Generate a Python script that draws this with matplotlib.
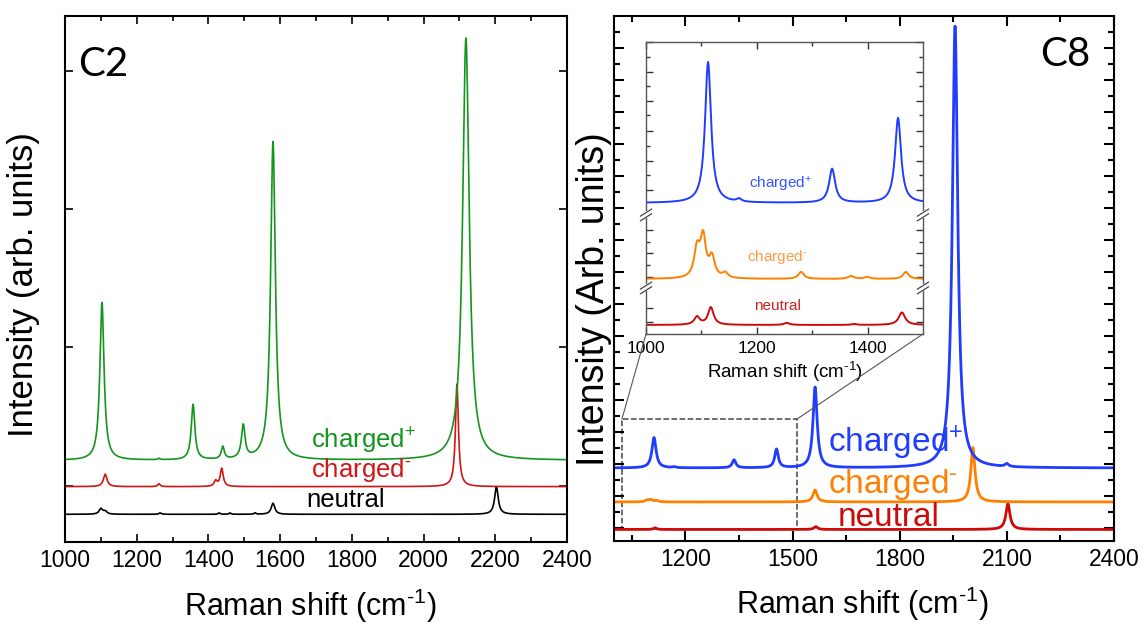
import numpy as np
import matplotlib
matplotlib.use('Agg')
import matplotlib.pyplot as plt
from matplotlib.patches import Rectangle, ConnectionPatch

plt.rcParams['font.family'] = ['Liberation Sans', 'DejaVu Sans']
plt.rcParams['mathtext.fontset'] = 'custom'
plt.rcParams['mathtext.rm'] = 'Liberation Sans'
plt.rcParams['mathtext.default'] = 'regular'

# ---- C2 panel: baseline, peak centres (cm-1), heights, half widths ----
c2_neu_base = 0.20
c2_neu_pos = [1100, 1112, 1265, 1430, 1460, 1530, 1580, 2203]
c2_neu_amp = [0.04, 0.02, 0.01, 0.01, 0.01, 0.01, 0.08, 0.20]
c2_neu_wid = [6, 6, 4, 3, 3, 3, 6, 6]

c2_neg_base = 0.40
c2_neg_pos = [1112, 1262, 1420, 1437, 2093]
c2_neg_amp = [0.09, 0.02, 0.04, 0.13, 0.74]
c2_neg_wid = [6, 4, 5, 5, 5]

c2_pos_base = 0.59
c2_pos_pos = [1103, 1262, 1357, 1440, 1497, 1580, 2118]
c2_pos_amp = [1.14, 0.01, 0.40, 0.09, 0.24, 2.30, 3.05]
c2_pos_wid = [7, 3, 6, 5, 6, 8, 11]

# ---- C8 panel ----
c8_neu_base = 0.36
c8_neu_pos = [1115, 1565, 2103]
c8_neu_amp = [0.05, 0.09, 0.80]
c8_neu_wid = [5, 6, 7]

c8_neg_base = 1.22
c8_neg_pos = [1092, 1103, 1119, 1563, 2005]
c8_neg_amp = [0.05, 0.07, 0.04, 0.37, 1.70]
c8_neg_wid = [6, 6, 6, 7, 7]

c8_pos_base = 2.28
c8_pos_pos = [1112, 1168, 1336, 1455, 1563, 1955, 2100]
c8_pos_amp = [0.95, 0.03, 0.25, 0.58, 2.52, 13.8, 0.09]
c8_pos_wid = [7, 5, 6, 6, 7, 9, 6]

# ---- C8 inset (1000-1500 cm-1), stacked with breaks ----
in_neu_base = 9
in_neu_pos = [1092, 1117, 1254, 1375, 1462]
in_neu_amp = [8, 17.5, 2, 1, 12.5]
in_neu_wid = [6, 6, 6, 5, 7]

in_neg_base = 55
in_neg_pos = [1092, 1103, 1119, 1143, 1280, 1370, 1399, 1469]
in_neg_amp = [28, 40, 20, 5, 7, 3, 2, 7]
in_neg_wid = [6, 6, 6, 6, 6, 6, 6, 6]

in_pos_base = 131
in_pos_pos = [1112, 1168, 1336, 1455]
in_pos_amp = [141, 3, 34, 85]
in_pos_wid = [6.5, 5, 6.5, 6.5]

PLUS = 'charged$^{\\text{+}}$'
MINUS = 'charged$^{\\text{-}}$'
XLAB = 'Raman shift (cm$^{\\text{-1}}$)'


def spectrum(x, base, pos, amp, wid):
    y = np.full_like(x, base, dtype=float)
    for p, a, w in zip(pos, amp, wid):
        y += a * w**2 / ((x - p)**2 + w**2)
    return y


x = np.arange(1000, 2401, 1.0)
xi = np.arange(1000, 1501, 1.0)

fig = plt.figure(figsize=(11.43, 6.26), dpi=100)
ax1 = fig.add_axes([0.0569, 0.1342, 0.4392, 0.8403])
ax2 = fig.add_axes([0.5372, 0.1358, 0.4374, 0.8387])

for sp in list(ax1.spines.values()) + list(ax2.spines.values()):
    sp.set_linewidth(1.5)

# left panel
ax1.plot(x, spectrum(x, c2_neu_base, c2_neu_pos, c2_neu_amp, c2_neu_wid), color='black', lw=1.2)
ax1.plot(x, spectrum(x, c2_neg_base, c2_neg_pos, c2_neg_amp, c2_neg_wid), color='#d01515', lw=1.2)
ax1.plot(x, spectrum(x, c2_pos_base, c2_pos_pos, c2_pos_amp, c2_pos_wid), color='#14961e', lw=1.2)
ax1.set_xlim(1000, 2400)
ax1.set_ylim(0, 3.80)
ax1.set_xticks(np.arange(1000, 2401, 200))
ax1.set_xticks(np.arange(1100, 2400, 200), minor=True)
ax1.set_yticks([0.405, 1.405, 2.405, 3.405])
ax1.set_yticklabels([])
ax1.tick_params(which='both', direction='in', top=True, right=True, labelsize=16.5, pad=5)
ax1.tick_params(which='major', length=6, width=1.2)
ax1.tick_params(which='minor', length=3.5, width=1.2)
ax1.set_xlabel(XLAB, fontsize=22)
ax1.xaxis.set_label_coords(0.488, -0.085)
ax1.set_ylabel('Intensity (arb. units)', fontsize=25)
ax1.yaxis.set_label_coords(-0.05, 0.489)
ax1.text(1106, 3.45, 'C2', fontsize=29, family=['Lato', 'DejaVu Sans'], ha='center', va='center')
ax1.text(1686, 0.73, PLUS, color='#14961e', fontsize=18.5, ha='left', va='center')
ax1.text(1686, 0.52, MINUS, color='#d01515', fontsize=18.5, ha='left', va='center')
ax1.text(1672, 0.30, 'neutral', color='black', fontsize=18.5, ha='left', va='center')

# right panel
ax2.plot(x, spectrum(x, c8_neu_base, c8_neu_pos, c8_neu_amp, c8_neu_wid), color='#cc0a0a', lw=2)
ax2.plot(x, spectrum(x, c8_neg_base, c8_neg_pos, c8_neg_amp, c8_neg_wid), color='#ff8000', lw=2)
ax2.plot(x, spectrum(x, c8_pos_base, c8_pos_pos, c8_pos_amp, c8_pos_wid), color='#1f3cff', lw=2)
ax2.set_xlim(1000, 2400)
ax2.set_ylim(0, 16.4)
ax2.set_xticks(np.arange(1200, 2401, 300))
ax2.set_xticks(np.arange(1050, 2400, 300), minor=True)
ax2.set_yticks(np.arange(0.406, 16.4, 1.0))
ax2.set_yticks(np.arange(0.906, 16.4, 1.0), minor=True)
ax2.set_yticklabels([])
ax2.tick_params(which='both', direction='in', top=True, right=True, labelsize=16.5, pad=5)
ax2.tick_params(which='major', length=7, width=1.5)
ax2.tick_params(which='minor', length=4, width=1.5)
ax2.set_xlabel(XLAB, fontsize=22)
ax2.xaxis.set_label_coords(0.496, -0.083)
ax2.set_ylabel('Intensity (Arb. units)', fontsize=27)
ax2.yaxis.set_label_coords(-0.004, 0.46)
ax2.text(2263, 15.2, 'C8', fontsize=29, family=['Lato', 'DejaVu Sans'], ha='center', va='center')
ax2.text(1599, 3.06, PLUS, color='#1f3cff', fontsize=24, ha='left', va='center')
ax2.text(1599, 1.75, MINUS, color='#ff8000', fontsize=24, ha='left', va='center')
ax2.text(1627, 0.72, 'neutral', color='#cc0a0a', fontsize=24, ha='left', va='center')

# zoom box
ax2.add_patch(Rectangle((1022, 0.375), 490, 3.43, fill=False, ls='--', lw=1.1, ec='#444444'))

# inset
ax3 = fig.add_axes([0.5652, 0.4665, 0.2423, 0.4665])
for sp in ax3.spines.values():
    sp.set_color('#555555')
    sp.set_linewidth(1.0)
ax3.plot(xi, spectrum(xi, in_neu_base, in_neu_pos, in_neu_amp, in_neu_wid), color='#cc0a0a', lw=1.4)
ax3.plot(xi, spectrum(xi, in_neg_base, in_neg_pos, in_neg_amp, in_neg_wid), color='#ff8000', lw=1.4)
ax3.plot(xi, spectrum(xi, in_pos_base, in_pos_pos, in_pos_amp, in_pos_wid), color='#1f3cff', lw=1.4)
ax3.set_xlim(1000, 1500)
ax3.set_ylim(0, 292)
ax3.set_xticks([1000, 1200, 1400])
ax3.set_xticks([1100, 1300], minor=True)
ax3.set_yticks([12, 26, 57, 81, 104, 144, 173, 203, 233, 262, 292])
ax3.set_yticks([69, 92, 159, 188, 219, 248, 277], minor=True)
ax3.set_yticklabels([])
ax3.tick_params(which='both', direction='in', top=True, right=True, labelsize=12.5, pad=5, color='#333333')
ax3.tick_params(which='major', length=5, width=1)
ax3.tick_params(which='minor', length=3, width=1)
ax3.set_xlabel(XLAB, fontsize=13.5, labelpad=3)
ax3.text(1242, 149, PLUS, color='#3355ff', fontsize=11, ha='center', va='center')
ax3.text(1236, 77, MINUS, color='#ff9a40', fontsize=11, ha='center', va='center')
ax3.text(1238, 28, 'neutral', color='#d02020', fontsize=11, ha='center', va='center')

# axis break marks on the inset
for yb in [119 / 292, 46 / 292]:
    for xb in [0, 1]:
        ax3.add_patch(Rectangle((xb - 0.012, yb - 0.012), 0.024, 0.024, transform=ax3.transAxes,
                                fc='white', ec='none', clip_on=False, zorder=5))
        for dy in [-0.008, 0.008]:
            ax3.plot([xb - 0.02, xb + 0.02], [yb + dy - 0.012, yb + dy + 0.012], transform=ax3.transAxes,
                     color='#444444', lw=0.9, clip_on=False, zorder=6)

# lines linking zoom box to inset
for xa, xf in [(1022, 0), (1512, 1)]:
    con = ConnectionPatch(xyA=(xa, 3.805), coordsA=ax2.transData, xyB=(xf, 0), coordsB=ax3.transAxes,
                          color='#555555', lw=0.8)
    fig.add_artist(con)

fig.savefig('out.png', dpi=100)
